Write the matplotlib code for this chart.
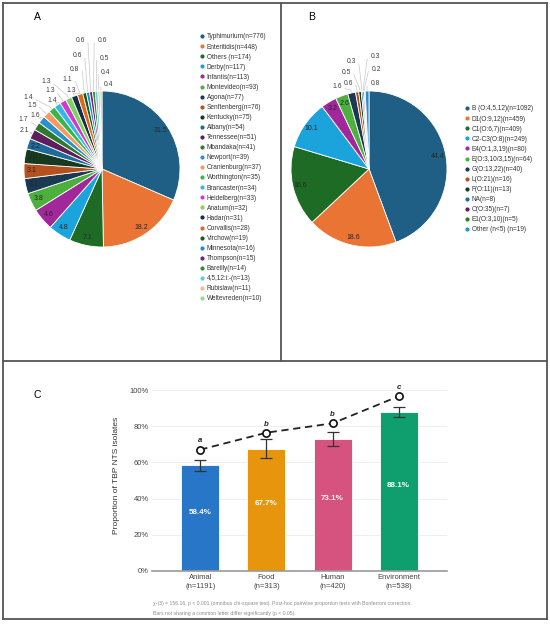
import matplotlib
matplotlib.use("Agg")
import matplotlib.pyplot as plt
from matplotlib.lines import Line2D
import numpy as np

plt.rcParams['font.family'] = ['Liberation Sans', 'DejaVu Sans']

# ---------------- data ----------------
serovars = ['Typhimurium', 'Enteritidis', 'Others ', 'Derby', 'Infantis', 'Montevideo',
            'Agona', 'Senftenberg', 'Kentucky', 'Albany', 'Tennessee', 'Mbandaka',
            'Newport', 'Oranienburg', 'Worthington', 'Brancaster', 'Heidelberg', 'Anatum',
            'Hadar', 'Corvallis', 'Virchow', 'Minnesota', 'Thompson', 'Bareilly',
            '4,5,12:i:-', 'Rubislaw', 'Weltevreden']
serovar_n = [776, 448, 174, 117, 113, 93, 77, 76, 75, 54, 51, 41, 39, 37, 35, 34, 33, 32,
             31, 28, 19, 16, 15, 14, 13, 11, 10]

serogroups = ['B (O:4,5,12)', 'D1(O:9,12)', 'C1(O:6,7)', 'C2-C3(O:8)', 'E4(O:1,3,19)',
              'E(O:3,10/3,15)', 'G(O:13,22)', 'L(O:21)', 'F(O:11)', 'NA', 'O(O:35)',
              'E1(O:3,10)', 'Other (n<5) ']
serogroup_n = [1092, 459, 409, 249, 80, 64, 40, 16, 13, 8, 7, 5, 19]
serogroup_pct = [44.4, 18.6, 16.6, 10.1, 3.2, 2.6, 1.6, 0.6, 0.5, 0.3, 0.3, 0.2, 0.8]

sources = ['Animal', 'Food', 'Human', 'Environment']
source_n = [1191, 313, 420, 538]
tbp_pct = [58.4, 67.7, 73.1, 88.1]
ci_low = [55.4, 62.6, 69.0, 85.2]
ci_high = [61.2, 72.8, 77.1, 90.7]
trend_pct = [67.1, 76.5, 81.7, 96.7]
sig_letters = ['a', 'b', 'b', 'c']

# ---------------- style ----------------
palette = ['#1f5f85', '#ea7433', '#1e6b26', '#1ba3dc', '#a1279b', '#4caf3e', '#193a52',
           '#b4511f', '#17391f', '#1e6b99', '#5e1e5e', '#2f7a2a', '#2a8fca', '#f39b62',
           '#39b54a', '#35b6ec', '#d03ad0', '#7fd35a', '#142f4a', '#e0671c', '#1a5b1a',
           '#1c8ed0', '#7a1f7a', '#2e8f2e', '#5ec8f0', '#f9b88e', '#8de08d']
bar_colors = ['#2776c8', '#e8950e', '#d5537e', '#0f9f6e']

# outside label placements (text centre, in pie-radius units)
A_OUT = [(-1.00, 0.50), (-1.01, 0.63), (-0.86, 0.69), (-0.90, 0.82), (-0.95, 0.92),
         (-0.64, 0.88), (-0.67, 1.00), (-0.72, 1.12), (-0.40, 1.00), (-0.44, 1.15),
         (-0.35, 1.28), (-0.32, 1.45), (-0.28, 1.65), (0.00, 1.65), (0.03, 1.42),
         (0.05, 1.24), (0.08, 1.08)]
B_OUT = [(-0.41, 1.06), (-0.27, 1.10), (-0.295, 1.24), (-0.23, 1.38), (0.077, 1.44),
         (0.09, 1.28), (0.077, 1.09)]

W, H = 550, 624
fig = plt.figure(figsize=(W / 100, H / 100), dpi=100)


def fx(px):
    return px / W


def fy(py):
    return 1 - py / H


def draw_pie(cx, cy, r, counts, pct_labels, colors, out_pos, lim=1.9):
    size = 2 * lim * r
    ax = fig.add_axes([fx(cx - lim * r), fy(cy + lim * r), size / W, size / H])
    wedges, _ = ax.pie(counts, colors=colors, startangle=90, counterclock=False,
                       radius=1, wedgeprops=dict(edgecolor='white', linewidth=0.6))
    ax.set_xlim(-lim, lim)
    ax.set_ylim(-lim, lim)
    ax.set_aspect('equal')
    ax.axis('off')
    k = 0
    for w, p in zip(wedges, pct_labels):
        ang = np.deg2rad((w.theta1 + w.theta2) / 2)
        if p >= 2.15:
            ax.text(0.9 * np.cos(ang), 0.9 * np.sin(ang), f'{p:.1f}', ha='center',
                    va='center', fontsize=5.0, color='#262626')
        else:
            tx, ty = out_pos[k]
            k += 1
            ax.text(tx, ty, f'{p:.1f}', ha='center', va='center', fontsize=4.9,
                    color='#404040')
            ex = tx + 0.1 if tx < -0.02 else tx - 0.1
            ey = ty - 0.03
            ax.plot([1.0 * np.cos(ang), 1.04 * np.cos(ang), ex],
                    [1.0 * np.sin(ang), 1.04 * np.sin(ang), ey],
                    color='#c8c8c8', lw=0.5, clip_on=False, zorder=0)
    return ax


def draw_legend(labels, counts, colors, x_px, y_px):
    handles = [Line2D([], [], marker='o', ls='', color=c, markersize=2.0) for c in colors]
    texts = [f'{l}(n={n})' for l, n in zip(labels, counts)]
    fig.legend(handles, texts, loc='upper left', bbox_to_anchor=(fx(x_px), fy(y_px)),
               bbox_transform=fig.transFigure, frameon=False, fontsize=4.7,
               handlelength=0.6, handletextpad=0.35, labelspacing=0.47,
               borderpad=0, borderaxespad=0, labelcolor='#333333')


# ---------- Panel A ----------
draw_pie(102, 169, 78, serovar_n, [round(100 * n / sum(serovar_n), 1) for n in serovar_n],
         palette[:len(serovar_n)], A_OUT)
draw_legend(serovars, serovar_n, palette[:len(serovar_n)], 200.5, 33.5)
fig.text(fx(37), fy(17), 'A', fontsize=7.5, ha='center', va='center')

# ---------- Panel B ----------
draw_pie(369, 169, 78, serogroup_n, serogroup_pct, palette[:len(serogroup_n)], B_OUT)
draw_legend(serogroups, serogroup_n, palette[:len(serogroup_n)], 465.5, 105.5)
fig.text(fx(312), fy(17), 'B', fontsize=7.5, ha='center', va='center')

# ---------- Panel C ----------
ytop = 1.05
y0_px, y100_px = 570.7, 390.3
ax_h = ytop * (y0_px - y100_px)
axc = fig.add_axes([fx(152), fy(y0_px), (447 - 152) / W, ax_h / H])
x = np.arange(len(sources))
prop = np.array(tbp_pct) / 100
axc.bar(x, prop, width=0.575, color=bar_colors, edgecolor='#ffffff', linewidth=0.6,
        zorder=2)
yerr = np.array([prop - np.array(ci_low) / 100, np.array(ci_high) / 100 - prop])
axc.errorbar(x, prop, yerr=yerr, fmt='none', ecolor='#333333', elinewidth=0.9,
             capsize=4.5, capthick=0.9, zorder=3)
tr = np.array(trend_pct) / 100
axc.plot(x, tr, ls=(0, (4, 2.6)), color='#222222', lw=1.3, zorder=4)
axc.plot(x, tr, ls='', marker='o', mfc='white', mec='#111111', mew=1.2, ms=5.2, zorder=5)
for xi, t, l in zip(x, tr, sig_letters):
    axc.text(xi, t + 0.048, l, ha='center', va='center', fontsize=5.6,
             fontstyle='italic', fontweight='bold', color='#222222')
for xi, v in zip(x, tbp_pct):
    axc.text(xi, v / 200 + 0.033, f'{v:.1f}%', ha='center', va='center', fontsize=5.8,
             fontweight='bold', color='white', zorder=6)
axc.set_xlim(-0.73, 3.73)
axc.set_ylim(0, ytop)
axc.set_yticks(np.arange(0, 1.01, 0.2))
axc.set_yticklabels([f'{int(round(v * 100))}%' for v in np.arange(0, 1.01, 0.2)])
axc.set_xticks(x)
axc.set_xticklabels([f'{s}\n(n={n})' for s, n in zip(sources, source_n)], linespacing=1.45)
axc.tick_params(axis='both', length=0, labelsize=5.5, labelcolor='#444444')
axc.tick_params(axis='y', pad=2.5)
axc.tick_params(axis='x', pad=2.5)
axc.grid(axis='y', color='#ececec', lw=0.6, zorder=0)
axc.set_axisbelow(True)
for s in ['left', 'top', 'right']:
    axc.spines[s].set_visible(False)
axc.spines['bottom'].set_color('#9a9a9a')
axc.spines['bottom'].set_linewidth(1.2)
axc.set_ylabel('Proportion of TBP NTS isolates', fontsize=6.0, color='#333333')
axc.yaxis.set_label_coords((120 - 152) / (447 - 152), (y0_px - 475) / ax_h)

fig.text(fx(153), fy(603), 'χ²(3) = 156.16, p < 0.001 (omnibus chi-square test). '
         'Post-hoc pairwise proportion tests with Bonferroni correction.',
         fontsize=3.7, color='#8c8c8c', ha='left', va='center')
fig.text(fx(153), fy(613.7), 'Bars not sharing a common letter differ significantly (p < 0.05).',
         fontsize=3.7, color='#8c8c8c', ha='left', va='center')
fig.text(fx(37), fy(395), 'C', fontsize=7.5, ha='center', va='center')

# ---------- panel frames ----------
frame = dict(transform=fig.transFigure, color='#555555', lw=1.3)
for (x1, y1, x2, y2) in [(3, 3, 547, 3), (3, 619, 547, 619), (3, 3, 3, 619),
                         (547, 3, 547, 619), (281, 3, 281, 361), (3, 361, 547, 361)]:
    fig.add_artist(Line2D([fx(x1), fx(x2)], [fy(y1), fy(y2)], **frame))

fig.savefig('out.png', dpi=100)
